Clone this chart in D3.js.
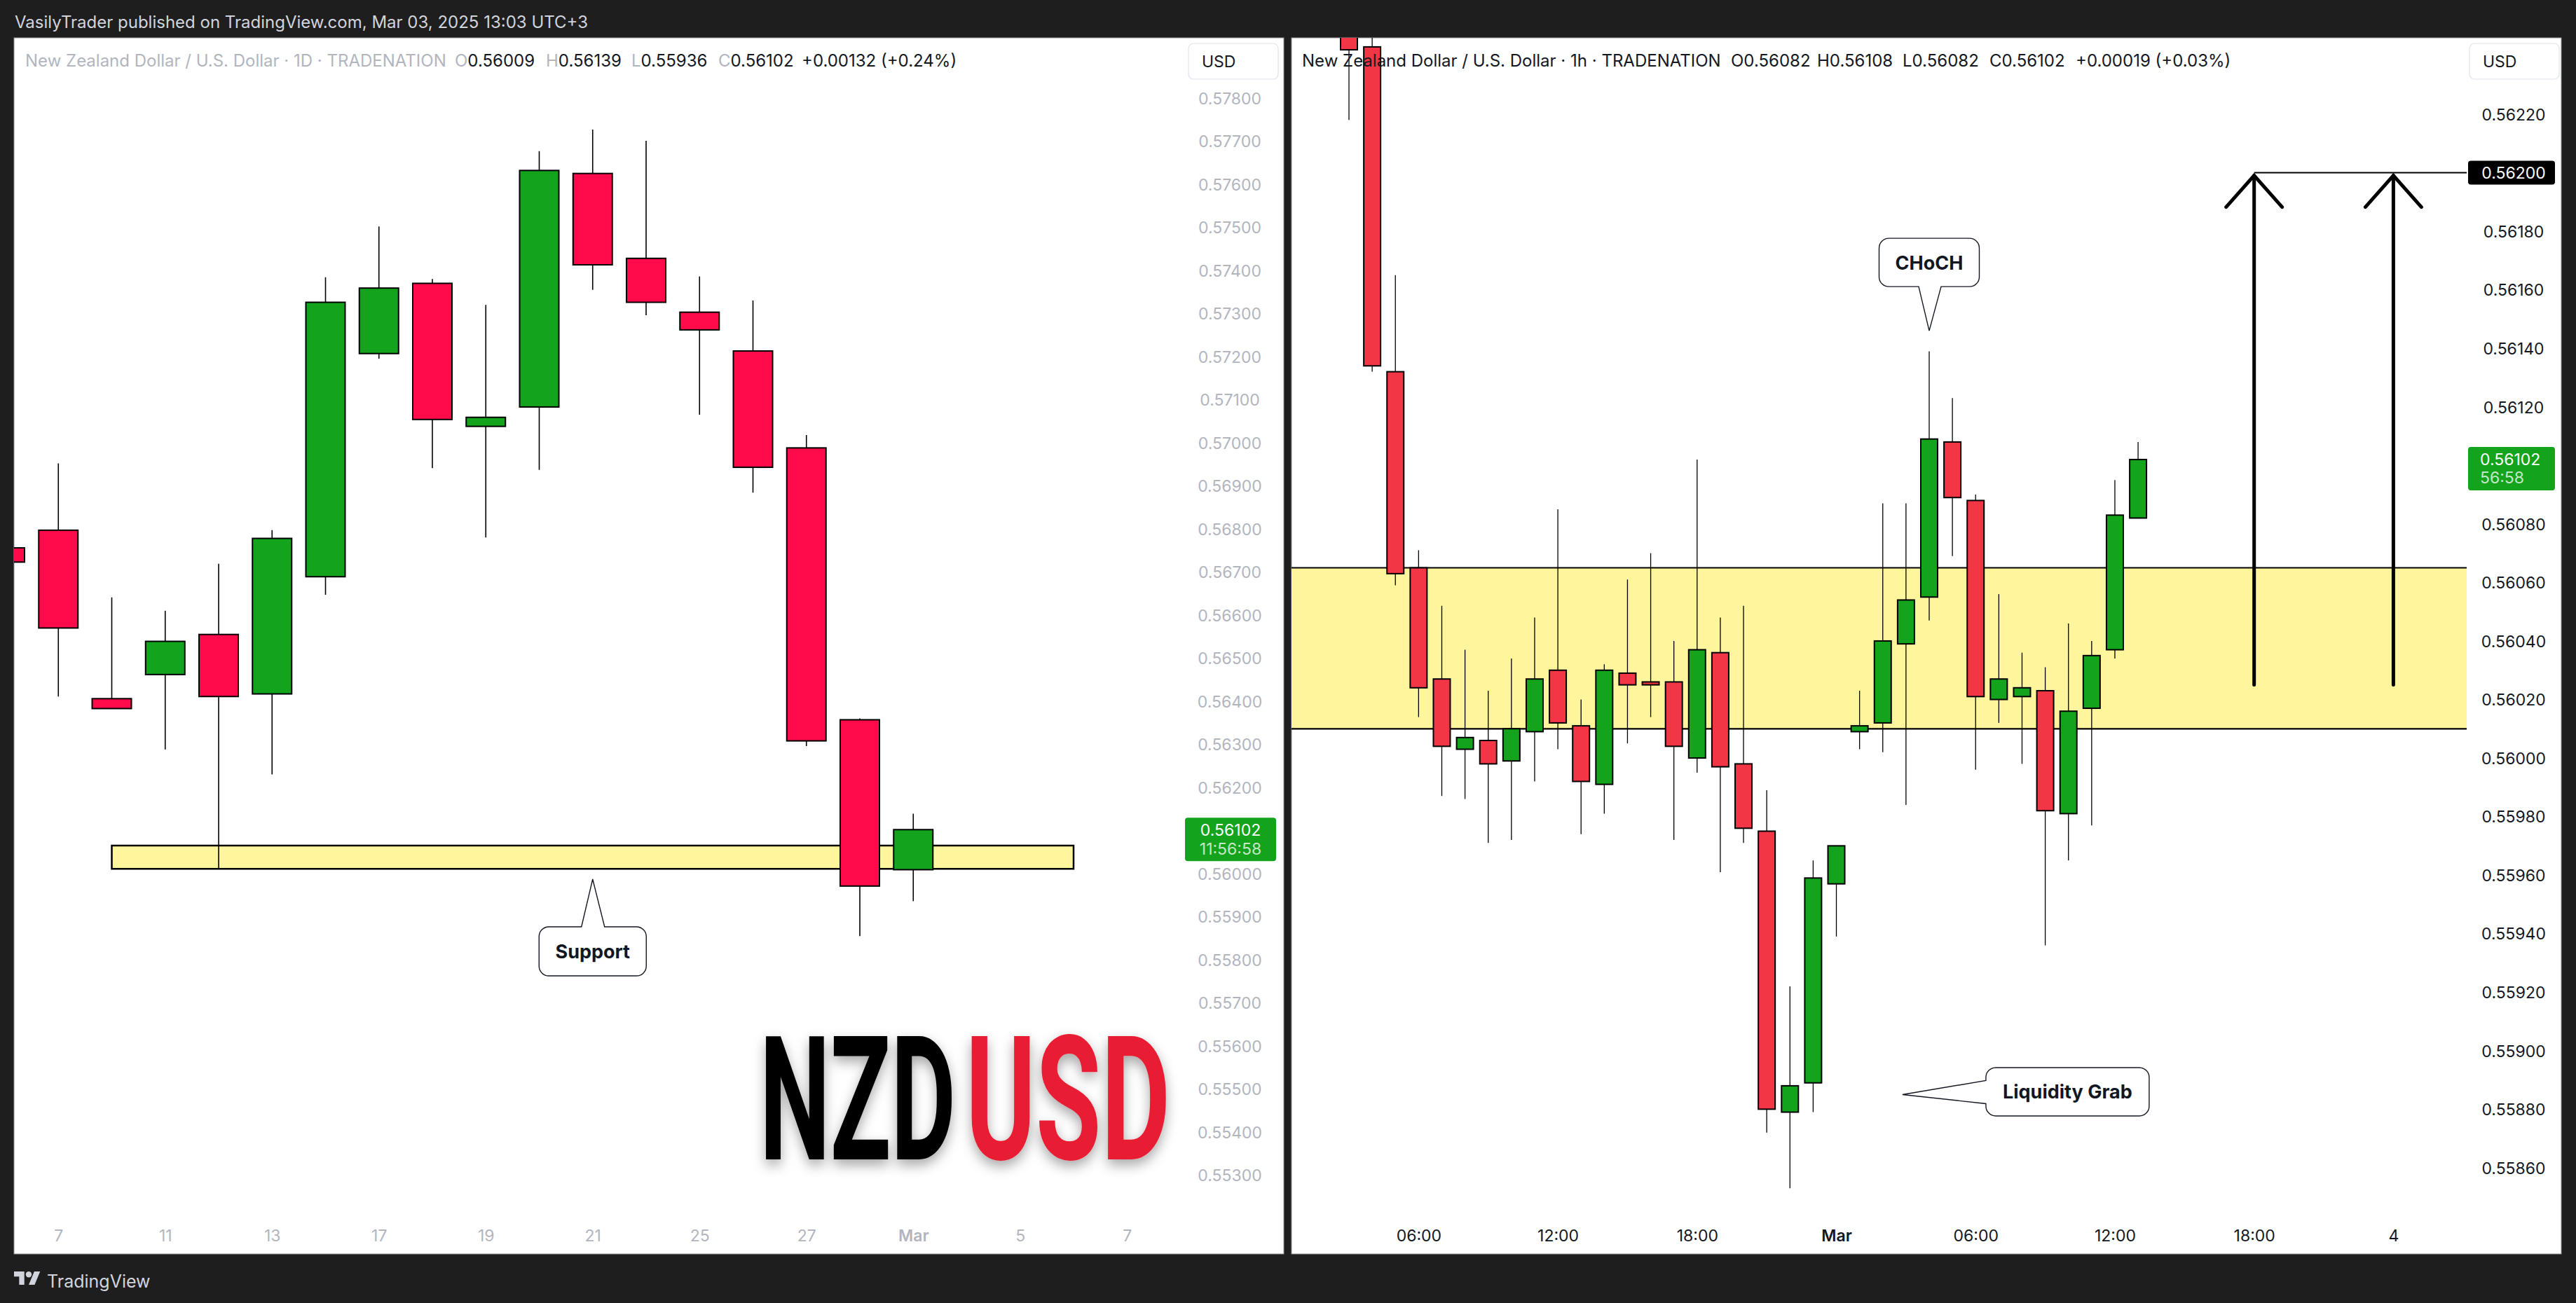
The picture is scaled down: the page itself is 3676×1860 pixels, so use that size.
<!DOCTYPE html>
<html><head><meta charset="utf-8">
<script src="https://cdn.jsdelivr.net/npm/d3@7"></script>
<style>html,body{margin:0;padding:0;background:#1e1e1e;overflow:hidden}svg{display:block}</style>
</head><body><svg id="c" width="3676" height="1860"></svg>
<script>
// ---------------- DATA ----------------
// Left chart: NZD/USD daily
const leftDates  = ["Feb 6","Feb 7","Feb 10","Feb 11","Feb 12","Feb 13","Feb 14","Feb 17","Feb 18","Feb 19","Feb 20","Feb 21","Feb 24","Feb 25","Feb 26","Feb 27","Feb 28","Mar 3"];
const leftOpen   = [0.56756,0.56797,0.56406,0.56462,0.56555,0.56417,0.56689,0.57207,0.57370,0.57038,0.57083,0.57625,0.57428,0.57303,0.57213,0.56988,0.56357,0.56009];
const leftHigh   = [0.56756,0.56952,0.56641,0.56610,0.56719,0.56797,0.57384,0.57502,0.57380,0.57320,0.57677,0.57727,0.57701,0.57386,0.57330,0.57018,0.56360,0.56139];
const leftLow    = [0.56723,0.56411,0.56383,0.56288,0.56011,0.56230,0.56647,0.57195,0.56941,0.56780,0.56937,0.57355,0.57296,0.57065,0.56884,0.56296,0.55855,0.55936];
const leftClose  = [0.56723,0.56570,0.56383,0.56539,0.56411,0.56778,0.57326,0.57359,0.57054,0.57059,0.57632,0.57413,0.57326,0.57262,0.56943,0.56308,0.55971,0.56102];
const leftPriceTicks = [0.578,0.577,0.576,0.575,0.574,0.573,0.572,0.571,0.570,0.569,0.568,0.567,0.566,0.565,0.564,0.563,0.562,0.560,0.559,0.558,0.557,0.556,0.555,0.554,0.553];
const leftTimeTickIdx    = [1,3,5,7,9,11,13,15,17,19,21];
const leftTimeTickLabels = ["7","11","13","17","19","21","25","27","Mar","5","7"];
const leftSupport = {from: 2, to: 20, low: 0.56011, high: 0.56065};
const leftHeaderTitle = "New Zealand Dollar / U.S. Dollar · 1D · TRADENATION";
const leftHeaderChange = "+0.00132 (+0.24%)";
const leftCountdown = "11:56:58";

// Right chart: NZD/USD 1h
const rightTimes = ["Feb 28 03:00","04:00","05:00","06:00","07:00","08:00","09:00","10:00","11:00","12:00","13:00","14:00","15:00","16:00","17:00","18:00","19:00","20:00","21:00","22:00","23:00","Mar 1 00:00","Mar 3 01:00","02:00","03:00","04:00","05:00","06:00","07:00","08:00","09:00","10:00","11:00","12:00","13:00"];
const rightOpen  = [0.56265,0.56243,0.56132,0.56065,0.56027,0.56003,0.56006,0.55999,0.56009,0.56030,0.56011,0.55991,0.56029,0.56026,0.56026,0.56000,0.56036,0.55998,0.55975,0.55879,0.55889,0.55957,0.56009,0.56012,0.56039,0.56055,0.56108,0.56088,0.56020,0.56021,0.56023,0.55981,0.56017,0.56037,0.56082];
const rightHigh  = [0.56280,0.56275,0.56165,0.56071,0.56052,0.56037,0.56023,0.56034,0.56048,0.56085,0.56020,0.56032,0.56061,0.56070,0.56040,0.56102,0.56048,0.56052,0.55989,0.55922,0.55965,0.55970,0.56023,0.56087,0.56087,0.56139,0.56123,0.56090,0.56056,0.56036,0.56031,0.56046,0.56040,0.56095,0.56108];
const rightLow   = [0.56218,0.56132,0.56059,0.56014,0.55987,0.55986,0.55971,0.55972,0.55992,0.56003,0.55974,0.55981,0.56005,0.56014,0.55972,0.55995,0.55961,0.55971,0.55872,0.55853,0.55879,0.55939,0.56003,0.56002,0.55984,0.56047,0.56069,0.55996,0.56012,0.55998,0.55936,0.55965,0.55977,0.56034,0.56082];
const rightClose = [0.56242,0.56134,0.56063,0.56024,0.56004,0.56007,0.55998,0.56010,0.56027,0.56012,0.55992,0.56030,0.56025,0.56025,0.56004,0.56037,0.55997,0.55976,0.55880,0.55888,0.55959,0.55970,0.56011,0.56040,0.56054,0.56109,0.56089,0.56021,0.56027,0.56024,0.55982,0.56016,0.56035,0.56083,0.56102];
const rightPriceTicks = [0.5622,0.5618,0.5616,0.5614,0.5612,0.5608,0.5606,0.5604,0.5602,0.5600,0.5598,0.5596,0.5594,0.5592,0.5590,0.5588,0.5586];
const rightTimeTickIdx    = [3,9,15,21,27,33,39,45];
const rightTimeTickLabels = ["06:00","12:00","18:00","Mar","06:00","12:00","18:00","4"];
const rightZone = {low: 0.56010, high: 0.56065};
const rightTarget = 0.56200;
const rightArrowIdx = [39,45];
const rightArrowFrom = 0.56025;
const rightHeaderTitle = "New Zealand Dollar / U.S. Dollar · 1h · TRADENATION";
const rightHeaderChange = "+0.00019 (+0.03%)";
const rightCountdown = "56:58";

const publishText = "VasilyTrader published on TradingView.com, Mar 03, 2025 13:03 UTC+3";

// ---------------- STYLE ----------------
const FONT = "Inter, 'Noto Sans', Roboto, sans-serif";
const BG = "#1e1e1e", GREEN = "#13a31c", RED_L = "#ff0a4a", RED_R = "#f23645",
      ZONE = "#fff59d", GRAY = "#b2b5be", INK = "#131722";
const f5 = d3.format(".5f");

const svg = d3.select("#c");
const defs = svg.append("defs");
defs.append("clipPath").attr("id","clipL").append("rect").attr("x",20).attr("y",54).attr("width",1670).attr("height",1736);
defs.append("clipPath").attr("id","clipR").append("rect").attr("x",1843).attr("y",54).attr("width",1677).attr("height",1736);
const sh = defs.append("filter").attr("id","shadow").attr("x","-20%").attr("y","-20%").attr("width","140%").attr("height","150%");
sh.append("feDropShadow").attr("dx",0).attr("dy",8).attr("stdDeviation",9).attr("flood-color","#000").attr("flood-opacity",0.35);

svg.append("rect").attr("width",3676).attr("height",1860).attr("fill",BG);
svg.append("text").attr("x",21).attr("y",40).attr("font-family",FONT).attr("font-size",24)
   .attr("fill","#d1d4dc").text(publishText);

// panels
svg.append("rect").attr("x",20).attr("y",54).attr("width",1812).attr("height",1736).attr("fill","#fff").attr("stroke","#8e9098").attr("stroke-width",1);
svg.append("rect").attr("x",1843).attr("y",54).attr("width",1812).attr("height",1736).attr("fill","#fff").attr("stroke","#8e9098").attr("stroke-width",1);

// scales
const xL = d3.scaleLinear().domain([0,21]).range([7,1608.25]);
const yL = d3.scaleLinear().domain([0.578,0.553]).range([140,1677.5]);
const xR = d3.scaleLinear().domain([0,45]).range([1925,3415.4]);
const yR = d3.scaleLinear().domain([0.5622,0.5586]).range([163,1666.9]);

function drawCandles(g, O, Hh, Lo, C, x, y, bw, upC, downC, bodyStroke, wickW){
  const idx = d3.range(O.length);
  g.selectAll("line.wick").data(idx).join("line").attr("class","wick")
    .attr("x1",i=>x(i)).attr("x2",i=>x(i)).attr("y1",i=>y(Hh[i])).attr("y2",i=>y(Lo[i]))
    .attr("stroke","#000").attr("stroke-width",wickW);
  g.selectAll("rect.body").data(idx).join("rect").attr("class","body")
    .attr("x",i=>x(i)-bw/2).attr("width",bw)
    .attr("y",i=>y(Math.max(O[i],C[i])))
    .attr("height",i=>Math.max(Math.abs(y(O[i])-y(C[i])),2))
    .attr("fill",i=>C[i]>=O[i]?upC:downC)
    .attr("stroke","#000").attr("stroke-width",bodyStroke);
}

function bubble(g, bx, by, w, h, r, side, a, b, tx, ty, label){
  const p = d3.path();
  p.moveTo(bx+r,by);
  if(side==="top"){p.lineTo(a,by);p.lineTo(tx,ty);p.lineTo(b,by);}
  p.lineTo(bx+w-r,by); p.arcTo(bx+w,by,bx+w,by+r,r);
  p.lineTo(bx+w,by+h-r); p.arcTo(bx+w,by+h,bx+w-r,by+h,r);
  if(side==="bottom"){p.lineTo(b,by+h);p.lineTo(tx,ty);p.lineTo(a,by+h);}
  p.lineTo(bx+r,by+h); p.arcTo(bx,by+h,bx,by+h-r,r);
  if(side==="left"){p.lineTo(bx,b);p.lineTo(tx,ty);p.lineTo(bx,a);}
  p.lineTo(bx,by+r); p.arcTo(bx,by,bx+r,by,r); p.closePath();
  g.append("path").attr("d",p.toString()).attr("fill","#fff").attr("stroke",INK).attr("stroke-width",1.4);
  g.append("text").attr("x",bx+w/2).attr("y",by+h/2+10).attr("text-anchor","middle")
    .attr("font-family",FONT).attr("font-weight",700).attr("font-size",27).attr("fill",INK).text(label);
}

// ---------------- LEFT PANEL ----------------
const gL = svg.append("g").attr("clip-path","url(#clipL)");
gL.append("rect").attr("x",xL(leftSupport.from)).attr("y",yL(leftSupport.high))
  .attr("width",xL(leftSupport.to)-xL(leftSupport.from)).attr("height",yL(leftSupport.low)-yL(leftSupport.high))
  .attr("fill",ZONE).attr("stroke","#000").attr("stroke-width",2.5);
drawCandles(gL.append("g"), leftOpen, leftHigh, leftLow, leftClose, xL, yL, 56, GREEN, RED_L, 2, 1.6);

// Support callout
{
  const tx = xL(11), ty = yL(0.55987);
  bubble(svg.append("g"), tx-76.5, ty+68, 153, 70, 14, "top", tx-16, tx+17, tx, ty, "Support");
}

// NZDUSD logo text (condensed via horizontal scale)
const gT = svg.append("g").attr("filter","url(#shadow)");
function bigWord(word, x, target, color){
  const t = gT.append("text").attr("x",0).attr("y",0)
    .attr("font-family","Roboto, 'DejaVu Sans', sans-serif")
    .attr("font-weight",700).attr("font-size",246).attr("fill",color).text(word);
  const natural = t.node().getComputedTextLength() || target;
  t.attr("transform",`translate(${x},1655) scale(${target/natural},1)`);
}
bigWord("NZD", 1084, 280, "#000");
bigWord("USD", 1378, 292, "#e81c30");

// left price axis
const axL = svg.append("g").attr("transform","translate(1755,0)")
  .call(d3.axisRight(yL).tickValues(leftPriceTicks).tickFormat(f5).tickSize(0).tickPadding(0));
axL.select(".domain").remove();
axL.selectAll("text").attr("x",0).attr("dy","0.36em").attr("text-anchor","middle")
  .attr("font-family",FONT).attr("font-size",23).attr("fill",GRAY);

// left time axis
const axLx = svg.append("g").attr("transform","translate(0,1764)")
  .call(d3.axisBottom(xL).tickValues(leftTimeTickIdx).tickFormat((d,i)=>leftTimeTickLabels[i]).tickSize(0).tickPadding(0));
axLx.select(".domain").remove();
axLx.selectAll("text").attr("y",0).attr("dy","0.36em")
  .attr("font-family",FONT).attr("font-size",23).attr("fill",GRAY)
  .attr("font-weight",(d,i)=>leftTimeTickLabels[i]==="Mar"?600:400);

// left last-price label
{
  const last = leftClose.length-1, yy = yL(leftClose[last]);
  svg.append("rect").attr("x",1691).attr("y",yy-17).attr("width",130).attr("height",62).attr("rx",4).attr("fill",GREEN);
  svg.append("text").attr("x",1756).attr("y",yy).attr("dy","0.36em").attr("text-anchor","middle")
    .attr("font-family",FONT).attr("font-size",23).attr("fill","#fff").text(f5(leftClose[last]));
  svg.append("text").attr("x",1756).attr("y",yy+27).attr("dy","0.36em").attr("text-anchor","middle")
    .attr("font-family",FONT).attr("font-size",23).attr("fill","rgba(255,255,255,0.75)").text(leftCountdown);
}

// header helper
function header(x0, title, titleColor, pos, vals, change, letterColor){
  const y = 95;
  svg.append("text").attr("x",x0).attr("y",y).attr("font-family",FONT).attr("font-size",24).attr("fill",titleColor).text(title);
  ["O","H","L","C"].forEach((k,i)=>{
    const t = svg.append("text").attr("x",pos[i]).attr("y",y).attr("font-family",FONT).attr("font-size",24);
    t.append("tspan").attr("fill",letterColor).text(k);
    t.append("tspan").attr("fill",INK).text(vals[i]);
  });
  svg.append("text").attr("x",pos[4]).attr("y",y).attr("font-family",FONT).attr("font-size",24).attr("fill",INK).text(change);
}
{
  const l = leftOpen.length-1;
  header(36, leftHeaderTitle, GRAY, [649,779,901,1025,1144],
    [leftOpen[l],leftHigh[l],leftLow[l],leftClose[l]].map(f5), leftHeaderChange, GRAY);
}
function usdBox(x){
  svg.append("rect").attr("x",x).attr("y",62).attr("width",128).attr("height",51).attr("rx",7)
    .attr("fill","#fff").attr("stroke","#e0e3eb").attr("stroke-width",1.2);
  svg.append("text").attr("x",x+19).attr("y",96).attr("font-family",FONT).attr("font-size",23).attr("fill",INK).text("USD");
}
usdBox(1696);

// ---------------- RIGHT PANEL ----------------
const gR = svg.append("g").attr("clip-path","url(#clipR)");
gR.append("rect").attr("x",1843).attr("y",yR(rightZone.high)).attr("width",3520-1843)
  .attr("height",yR(rightZone.low)-yR(rightZone.high)).attr("fill",ZONE);
[rightZone.high, rightZone.low].forEach(p=>{
  gR.append("line").attr("x1",1843).attr("x2",3520).attr("y1",yR(p)).attr("y2",yR(p)).attr("stroke","#000").attr("stroke-width",2.2);
});
drawCandles(gR.append("g"), rightOpen, rightHigh, rightLow, rightClose, xR, yR, 24, GREEN, RED_R, 2, 1.3);

// target line
gR.append("line").attr("x1",xR(rightArrowIdx[0])).attr("x2",3520).attr("y1",yR(rightTarget)).attr("y2",yR(rightTarget))
  .attr("stroke","#000").attr("stroke-width",2);
// arrows
rightArrowIdx.forEach(i=>{
  const x = xR(i), y0 = yR(rightArrowFrom), y1 = yR(rightTarget)+4;
  gR.append("line").attr("x1",x).attr("x2",x).attr("y1",y0).attr("y2",y1).attr("stroke","#000").attr("stroke-width",5).attr("stroke-linecap","round");
  gR.append("path").attr("d",`M${x-40},${y1+45}L${x},${y1}L${x+40},${y1+45}`).attr("fill","none")
    .attr("stroke","#000").attr("stroke-width",5).attr("stroke-linecap","round").attr("stroke-linejoin","miter");
});

// callouts
{
  const tx = xR(25), ty = yR(0.56146);
  bubble(svg.append("g"), tx-71.5, ty-132, 143, 69, 14, "bottom", tx-15, tx+17, tx, ty, "CHoCH");
}
{
  const tx = xR(23.85), ty = yR(0.55885);
  bubble(svg.append("g"), tx+119, ty-38.5, 233, 69, 14, "left", ty-20, ty+13, tx, ty, "Liquidity Grab");
}

// right price axis
const axR = svg.append("g").attr("transform","translate(3587,0)")
  .call(d3.axisRight(yR).tickValues(rightPriceTicks).tickFormat(f5).tickSize(0).tickPadding(0));
axR.select(".domain").remove();
axR.selectAll("text").attr("x",0).attr("dy","0.36em").attr("text-anchor","middle")
  .attr("font-family",FONT).attr("font-size",23).attr("fill",INK);

// right time axis
const axRx = svg.append("g").attr("transform","translate(0,1764)")
  .call(d3.axisBottom(xR).tickValues(rightTimeTickIdx).tickFormat((d,i)=>rightTimeTickLabels[i]).tickSize(0).tickPadding(0));
axRx.select(".domain").remove();
axRx.selectAll("text").attr("y",0).attr("dy","0.36em")
  .attr("font-family",FONT).attr("font-size",23).attr("fill",INK)
  .attr("font-weight",(d,i)=>rightTimeTickLabels[i]==="Mar"?600:400);

// target label
{
  const yy = yR(rightTarget);
  svg.append("rect").attr("x",3522).attr("y",yy-17).attr("width",124).attr("height",34).attr("rx",4).attr("fill","#000");
  svg.append("text").attr("x",3587).attr("y",yy).attr("dy","0.36em").attr("text-anchor","middle")
    .attr("font-family",FONT).attr("font-size",23).attr("fill","#fff").text(f5(rightTarget));
}
// last price label
{
  const last = rightClose.length-1, yy = yR(rightClose[last]);
  svg.append("rect").attr("x",3522).attr("y",yy-18).attr("width",124).attr("height",62).attr("rx",4).attr("fill",GREEN);
  svg.append("text").attr("x",3539).attr("y",yy).attr("dy","0.36em")
    .attr("font-family",FONT).attr("font-size",23).attr("fill","#fff").text(f5(rightClose[last]));
  svg.append("text").attr("x",3539).attr("y",yy+26).attr("dy","0.36em")
    .attr("font-family",FONT).attr("font-size",23).attr("fill","rgba(255,255,255,0.75)").text(rightCountdown);
}
{
  const l = rightOpen.length-1;
  header(1858, rightHeaderTitle, INK, [2470,2593,2715,2839,2962],
    [rightOpen[l],rightHigh[l],rightLow[l],rightClose[l]].map(f5), rightHeaderChange, INK);
}
usdBox(3524);

// footer logo
const lg = svg.append("g").attr("transform","translate(20,1810.8) scale(1.05)").attr("fill","#d1d4dc");
lg.append("path").attr("d","M14 22H7V11H0V4h14v18zM28 22h-8l7.5-18h8L28 22z");
lg.append("circle").attr("cx",20).attr("cy",8).attr("r",4);
svg.append("text").attr("x",67).attr("y",1838).attr("font-family",FONT).attr("font-size",25)
  .attr("fill","#d1d4dc").text("TradingView");
</script></body></html>
